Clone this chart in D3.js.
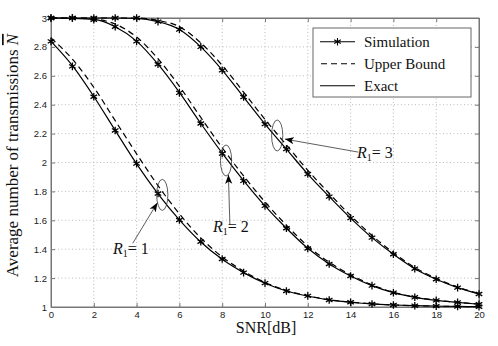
<!DOCTYPE html>
<html>
<head>
<meta charset="utf-8">
<script src="https://cdn.jsdelivr.net/npm/d3@7"></script>
<style>
  body { margin: 0; background: #fff; }
  .tick text { font-family: "Liberation Sans", Arial, sans-serif; font-size: 9.5px; fill: #222; }
  .serif { font-family: "Liberation Serif", "Times New Roman", serif; fill: #111; }
</style>
</head>
<body>
<div class="chart"></div>
<script>
var svgWidth = 498;
var svgHeight = 346;

var margin = { top: 18, right: 19, bottom: 39, left: 51 };

var width = svgWidth - margin.left - margin.right;
var height = svgHeight - margin.top - margin.bottom;

// data (SNR in dB, average number of transmissions)
var snr = [0, 1, 2, 3, 4, 5, 6, 7, 8, 9, 10, 11, 12, 13, 14, 15, 16, 17, 18, 19, 20];

var exactR1 = [2.838, 2.67, 2.457, 2.222, 1.99, 1.783, 1.603, 1.45, 1.33, 1.238, 1.164, 1.111, 1.076, 1.049, 1.033, 1.021, 1.014, 1.009, 1.006, 1.004, 1.002];
var exactR2 = [3.0, 2.998, 2.99, 2.94, 2.84, 2.68, 2.485, 2.27, 2.065, 1.875, 1.70, 1.545, 1.406, 1.298, 1.215, 1.148, 1.099, 1.067, 1.046, 1.032, 1.019];
var exactR3 = [3.0, 3.0, 3.0, 3.0, 2.998, 2.975, 2.92, 2.80, 2.64, 2.453, 2.266, 2.093, 1.92, 1.764, 1.615, 1.48, 1.365, 1.265, 1.192, 1.134, 1.09];

var boundR1 = [2.862, 2.715, 2.52, 2.29, 2.06, 1.84, 1.645, 1.478, 1.347, 1.248, 1.17, 1.114, 1.078, 1.05, 1.034, 1.022, 1.014, 1.009, 1.006, 1.004, 1.002];
var boundR2 = [3.0, 3.0, 2.993, 2.958, 2.868, 2.718, 2.527, 2.312, 2.102, 1.907, 1.727, 1.566, 1.422, 1.31, 1.223, 1.153, 1.102, 1.069, 1.047, 1.033, 1.02];
var boundR3 = [3.0, 3.0, 3.0, 3.0, 3.0, 2.983, 2.94, 2.828, 2.672, 2.487, 2.298, 2.122, 1.946, 1.786, 1.633, 1.495, 1.376, 1.273, 1.198, 1.138, 1.093];

var simR1 = [2.838, 2.665, 2.455, 2.222, 1.992, 1.785, 1.602, 1.452, 1.332, 1.238, 1.165, 1.111, 1.077, 1.049, 1.033, 1.021, 1.014, 1.009, 1.006, 1.004, 1.002];
var simR2 = [3.0, 3.0, 2.988, 2.94, 2.838, 2.68, 2.482, 2.27, 2.062, 1.873, 1.70, 1.545, 1.405, 1.298, 1.215, 1.148, 1.099, 1.067, 1.046, 1.032, 1.019];
var simR3 = [3.0, 3.0, 3.0, 3.0, 3.0, 2.975, 2.92, 2.80, 2.638, 2.453, 2.266, 2.093, 1.92, 1.764, 1.615, 1.48, 1.365, 1.265, 1.192, 1.134, 1.09];

var xTicks = [0, 2, 4, 6, 8, 10, 12, 14, 16, 18, 20];
var yTicks = [1, 1.2, 1.4, 1.6, 1.8, 2, 2.2, 2.4, 2.6, 2.8, 3];

var legendLabels = ["Simulation", "Upper Bound", "Exact"];

// annotations: ellipse centre, arrow start/end, label position (data units)
var notes = [
    { r: "1", cx: 5.2, cy: 1.776, x1: 3.82, y1: 1.441, x2: 4.97, y2: 1.721, tx: 2.9, ty: 1.367 },
    { r: "2", cx: 8.18, cy: 2.014, x1: 8.36, y1: 1.568, x2: 8.29, y2: 1.915, tx: 7.57, ty: 1.522 },
    { r: "3", cx: 10.57, cy: 2.187, x1: 14.36, y1: 2.072, x2: 10.93, y2: 2.162, tx: 14.3, ty: 2.03 }
];

var svg = d3.select(".chart")
    .append("svg")
    .attr("width", svgWidth)
    .attr("height", svgHeight);

var chart = svg.append("g")
    .attr("transform", `translate(${margin.left},${margin.top})`);

var xScale = d3.scaleLinear().domain([0, 20]).range([0, width]);
var yScale = d3.scaleLinear().domain([1, 3]).range([height, 0]);

// dotted grid
chart.append("g").selectAll("line")
    .data(xTicks.slice(1, -1))
    .enter().append("line")
    .attr("x1", d => xScale(d)).attr("x2", d => xScale(d))
    .attr("y1", 0).attr("y2", height)
    .attr("stroke", "#aaa").attr("stroke-width", 0.8)
    .attr("stroke-dasharray", "1,2.5");
chart.append("g").selectAll("line")
    .data(yTicks.slice(1, -1))
    .enter().append("line")
    .attr("x1", 0).attr("x2", width)
    .attr("y1", d => yScale(d)).attr("y2", d => yScale(d))
    .attr("stroke", "#aaa").attr("stroke-width", 0.8)
    .attr("stroke-dasharray", "1,2.5");

// axes with inward ticks
var xAxis = d3.axisBottom(xScale).tickValues(xTicks).tickSize(-4).tickPadding(4).tickFormat(d3.format("d"));
var yAxis = d3.axisLeft(yScale).tickValues(yTicks).tickSize(-4).tickPadding(4).tickFormat(d => d);

chart.append("g").attr("class", "x-axis")
    .attr("transform", `translate(0,${height})`)
    .call(xAxis);
chart.append("g").attr("class", "y-axis")
    .call(yAxis);
chart.append("g")
    .call(d3.axisTop(xScale).tickValues(xTicks).tickSize(-4).tickFormat(""));
chart.append("g")
    .attr("transform", `translate(${width},0)`)
    .call(d3.axisRight(yScale).tickValues(yTicks).tickSize(-4).tickFormat(""));

chart.selectAll(".domain").attr("stroke", "#777");
chart.selectAll(".tick line").attr("stroke", "#777");

// frame
chart.append("rect")
    .attr("width", width).attr("height", height)
    .attr("fill", "none").attr("stroke", "#777").attr("stroke-width", 1);

// curves
var line = d3.line()
    .x((d, i) => xScale(snr[i]))
    .y(d => yScale(d))
    .curve(d3.curveMonotoneX);

[boundR1, boundR2, boundR3].forEach(function (s) {
    chart.append("path").datum(s)
        .attr("d", line)
        .attr("fill", "none").attr("stroke", "#000").attr("stroke-width", 1.2)
        .attr("stroke-dasharray", "6,4");
});
[exactR1, exactR2, exactR3].forEach(function (s) {
    chart.append("path").datum(s)
        .attr("d", line)
        .attr("fill", "none").attr("stroke", "#000").attr("stroke-width", 1.2);
});

var star = d3.symbol().type(d3.symbolAsterisk).size(40);
[simR1, simR2, simR3].forEach(function (s) {
    chart.append("g").selectAll("path")
        .data(s)
        .enter().append("path")
        .attr("d", star)
        .attr("transform", (d, i) => `translate(${xScale(snr[i])},${yScale(d)})`)
        .attr("fill", "none").attr("stroke", "#000").attr("stroke-width", 1.3);
});

// annotations
svg.append("defs").append("marker")
    .attr("id", "head")
    .attr("viewBox", "0 0 10 10")
    .attr("refX", 10).attr("refY", 5)
    .attr("markerWidth", 9).attr("markerHeight", 9)
    .attr("markerUnits", "userSpaceOnUse")
    .attr("orient", "auto")
    .append("path").attr("d", "M0,1 L10,5 L0,9 L2.5,5 Z").attr("fill", "#000");

notes.forEach(function (n) {
    chart.append("ellipse")
        .attr("cx", xScale(n.cx)).attr("cy", yScale(n.cy))
        .attr("rx", 5.6).attr("ry", 15.5)
        .attr("fill", "none").attr("stroke", "#333").attr("stroke-width", 0.8);
    chart.append("line")
        .attr("x1", xScale(n.x1)).attr("y1", yScale(n.y1))
        .attr("x2", xScale(n.x2)).attr("y2", yScale(n.y2))
        .attr("stroke", "#333").attr("stroke-width", 0.8)
        .attr("marker-end", "url(#head)");
    var t = chart.append("text")
        .attr("class", "serif")
        .attr("x", xScale(n.tx)).attr("y", yScale(n.ty))
        .attr("font-size", "16px");
    t.append("tspan").attr("font-style", "italic").text("R");
    t.append("tspan").attr("font-size", "10px").attr("dy", 3).text("1");
    t.append("tspan").attr("dy", -3).text("= " + n.r);
});

// legend
var legend = chart.append("g").attr("transform", "translate(262,10)");
legend.append("rect")
    .attr("width", 158).attr("height", 69)
    .attr("fill", "#fff").attr("stroke", "#666").attr("stroke-width", 1);
legendLabels.forEach(function (label, i) {
    var ly = 13.7 + i * 22;
    var g = legend.append("g").attr("transform", `translate(0,${ly})`);
    var l = g.append("line")
        .attr("x1", 7).attr("x2", 42)
        .attr("stroke", "#000").attr("stroke-width", 1.1);
    if (i == 1) l.attr("stroke-dasharray", "6,4").attr("x1", 8);
    if (i == 0) {
        g.append("path").attr("d", star)
            .attr("transform", "translate(24.5,0)")
            .attr("fill", "none").attr("stroke", "#000").attr("stroke-width", 1.1);
    }
    g.append("text").attr("class", "serif")
        .attr("x", 51).attr("y", 5)
        .attr("font-size", "15px")
        .text(label);
});

// axis titles
chart.append("text")
    .attr("class", "serif")
    .attr("x", width / 2 + 1).attr("y", height + 26)
    .attr("text-anchor", "middle")
    .attr("font-size", "16px")
    .text("SNR[dB]");

var yt = chart.append("text")
    .attr("class", "serif")
    .attr("transform", `translate(-33,${height / 2 - 7})rotate(-90)`)
    .attr("text-anchor", "middle")
    .attr("font-size", "17px");
yt.append("tspan").text("Average number of transmissions ");
yt.append("tspan").attr("font-style", "italic")
    .style("text-decoration", "overline").text("N");
</script>
</body>
</html>
